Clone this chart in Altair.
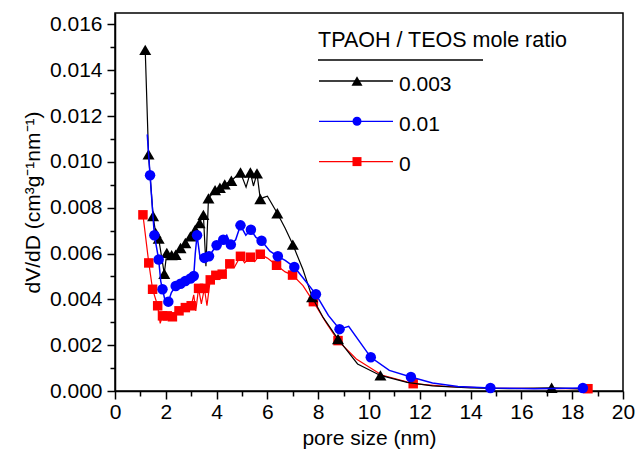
import altair as alt
import pandas as pd

FONT = "Liberation Sans"

# ---------------- data (y in cm3 g-1 nm-1) ----------------
# TPAOH/TEOS = 0.003 (black, triangles)
black_x = [1.19, 1.32, 1.50, 1.60, 1.72, 1.94, 2.04, 2.23, 2.39, 2.58, 2.77, 2.97, 3.16, 3.33, 3.48,
           3.58, 3.68, 3.94, 4.13, 4.32, 4.58, 4.75, 4.94, 5.16, 5.33, 5.45, 5.59, 5.72, 5.86, 6.00,
           6.39, 6.70, 7.00, 7.40, 7.76, 8.20, 8.78, 9.55, 10.45, 11.50, 12.50, 14.00, 15.50, 17.19, 18.58]
black_y = [0.01489, 0.01033, 0.00764, 0.00690, 0.00665, 0.00512, 0.00603, 0.00593, 0.00595, 0.00624,
           0.00646, 0.00675, 0.00704, 0.00733, 0.00769, 0.00545, 0.00841, 0.00877, 0.00887, 0.00902,
           0.00918, 0.00935, 0.00954, 0.00890, 0.00954, 0.00895, 0.00950, 0.00838, 0.00845, 0.00850,
           0.00776, 0.00710, 0.00639, 0.00530, 0.00410, 0.00320, 0.00227, 0.00118, 0.00068, 0.00038,
           0.00022, 0.00013, 0.00010, 0.00014, 0.00008]
black_mark = [1, 1, 1, 1, 1, 1, 1, 1, 1, 1, 1, 1, 1, 1, 1,
              0, 1, 1, 1, 1, 1, 0, 1, 0, 1, 0, 1, 1, 0, 0,
              1, 0, 1, 0, 1, 0, 1, 0, 1, 0, 0, 0, 0, 1, 0]

# TPAOH/TEOS = 0.01 (blue, circles)
blue_x = [1.27, 1.38, 1.55, 1.72, 1.80, 1.87, 1.96, 2.10, 2.22, 2.39, 2.58, 2.77, 2.97, 3.10, 3.16,
          3.23, 3.35, 3.52, 3.70, 4.00, 4.15, 4.26, 4.40, 4.56, 4.75, 4.94, 5.15, 5.35, 5.55, 5.77,
          6.10, 6.41, 6.70, 7.06, 7.50, 7.91, 8.40, 8.84, 9.20, 10.07, 10.80, 11.65, 12.50, 13.50,
          14.78, 16.50, 18.42]
blue_y = [0.01120, 0.00942, 0.00680, 0.00574, 0.00480, 0.00444, 0.00400, 0.00390, 0.00430, 0.00458,
          0.00468, 0.00480, 0.00491, 0.00502, 0.00600, 0.00680, 0.00580, 0.00581, 0.00588, 0.00636,
          0.00650, 0.00660, 0.00680, 0.00639, 0.00660, 0.00723, 0.00680, 0.00704, 0.00670, 0.00656,
          0.00610, 0.00588, 0.00570, 0.00541, 0.00480, 0.00422, 0.00330, 0.00270, 0.00282, 0.00147,
          0.00090, 0.00061, 0.00035, 0.00020, 0.00013, 0.00010, 0.00013]
blue_mark = [0, 1, 1, 1, 0, 1, 0, 1, 0, 1, 1, 1, 1, 1, 0,
             1, 0, 1, 1, 1, 0, 1, 0, 1, 0, 1, 0, 1, 0, 1,
             0, 1, 0, 1, 0, 1, 0, 1, 0, 1, 0, 1, 0, 0,
             1, 0, 1]

# TPAOH/TEOS = 0 (red, squares)
red_x = [1.10, 1.33, 1.48, 1.68, 1.78, 1.87, 2.06, 2.26, 2.40, 2.52, 2.77, 3.00, 3.10, 3.18, 3.29,
         3.40, 3.52, 3.62, 3.75, 3.97, 4.22, 4.52, 4.70, 4.94, 5.10, 5.33, 5.50, 5.72, 6.00, 6.36,
         6.70, 6.99, 7.40, 7.81, 8.30, 8.78, 9.50, 10.50, 11.74, 13.00, 15.00, 18.62]
red_y = [0.00769, 0.00559, 0.00444, 0.00372, 0.00295, 0.00328, 0.00328, 0.00324, 0.00350, 0.00350,
         0.00364, 0.00372, 0.00420, 0.00350, 0.00448, 0.00380, 0.00448, 0.00372, 0.00485, 0.00505,
         0.00510, 0.00555, 0.00540, 0.00588, 0.00560, 0.00584, 0.00565, 0.00597, 0.00580, 0.00549,
         0.00520, 0.00506, 0.00460, 0.00390, 0.00300, 0.00220, 0.00140, 0.00070, 0.00032, 0.00020,
         0.00012, 0.00010]
red_mark = [1, 1, 1, 1, 0, 1, 1, 1, 0, 1, 1, 1, 0, 0, 1,
            0, 1, 0, 1, 1, 1, 1, 0, 1, 0, 1, 0, 1, 0, 1,
            0, 1, 0, 1, 0, 1, 0, 0, 1, 0, 0, 1]

# drawing order: red, black, blue (blue on top)
series_names = ["0", "0.003", "0.01"]
series_colors = ["#ff0000", "#000000", "#0000ff"]
series_shapes = ["square", "triangle-up", "circle"]
series_sizes = [90, 144, 110]
series_widths = [1.2, 1.2, 1.5]
series_data = [(red_x, red_y, red_mark), (black_x, black_y, black_mark), (blue_x, blue_y, blue_mark)]

# legend (top to bottom)
legend_title = "TPAOH / TEOS mole ratio"
legend_labels = ["0.003", "0.01", "0"]
legend_colors = ["#000000", "#0000ff", "#ff0000"]
legend_shapes = ["triangle-up", "circle", "square"]
legend_sizes = [121, 81, 81]

x_ticks = list(range(0, 21, 2))
x_minor = list(range(1, 20, 2))
y_ticks = [0.000, 0.002, 0.004, 0.006, 0.008, 0.010, 0.012, 0.014, 0.016]
y_minor = [0.001, 0.003, 0.005, 0.007, 0.009, 0.011, 0.013, 0.015]

W, H = 508, 378

rows = []
for name, (xs, ys, ms) in zip(series_names, series_data):
    for i, (a, b, m) in enumerate(zip(xs, ys, ms)):
        rows.append({"series": name, "idx": i, "x": a, "y": b, "marker": m})
df = pd.DataFrame(rows)

x_scale = alt.Scale(domain=[0, 20], nice=False, zero=False)
y_scale = alt.Scale(domain=[0, 0.0165], nice=False, zero=False)

x_axis = alt.Axis(values=x_ticks, format="d", title="pore size (nm)", grid=False,
                  tickSize=8, tickWidth=1.5, tickColor="black", domainColor="black", domainWidth=1.5,
                  labelFontSize=21, labelFont=FONT, labelColor="black", labelPadding=2,
                  titleFontSize=21, titleFont=FONT, titleFontWeight="normal", titleColor="black",
                  titlePadding=5, labelFlush=False)
y_axis = alt.Axis(values=y_ticks, format=".3f", title="dV/dD (cm³g⁻¹nm⁻¹)", grid=False,
                  tickSize=8, tickWidth=1.5, tickColor="black", domainColor="black", domainWidth=1.5,
                  labelFontSize=21, labelFont=FONT, labelColor="black", labelPadding=5,
                  titleFontSize=21, titleFont=FONT, titleFontWeight="normal", titleColor="black",
                  titlePadding=6, labelFlush=False)

X = alt.X("x:Q", scale=x_scale, axis=x_axis)
Y = alt.Y("y:Q", scale=y_scale, axis=y_axis)

layers = []
for name, color, shape, size, sw in zip(series_names, series_colors, series_shapes, series_sizes, series_widths):
    base = alt.Chart(df).transform_filter(alt.datum.series == name)
    layers.append(base.mark_line(color=color, strokeWidth=sw, interpolate="linear").encode(
        x=X, y=Y, order="idx:Q"))
    layers.append(base.transform_filter(alt.datum.marker == 1).mark_point(
        shape=shape, filled=True, color=color, size=size, opacity=1).encode(x=X, y=Y))

# legend drawn in pixel space of the plot area
leg_x_text = 203
leg_line_x1, leg_line_x2, leg_mark_x, leg_label_x = 204, 278, 242, 284
leg_row0, leg_gap = 68, 40.3

title_df = pd.DataFrame({"t": [legend_title]})
layers.append(alt.Chart(title_df).mark_text(align="left", baseline="middle", font=FONT, fontSize=21.5,
                                            color="black").encode(
    x=alt.value(leg_x_text), y=alt.value(28), text="t:N"))
layers.append(alt.Chart(title_df).mark_rule(color="black", strokeWidth=1.5).encode(
    x=alt.value(203), x2=alt.value(368), y=alt.value(47)))

for i, (lab, col, shp, sz) in enumerate(zip(legend_labels, legend_colors, legend_shapes, legend_sizes)):
    yy = leg_row0 + i * leg_gap
    ldf = pd.DataFrame({"label": [lab]})
    layers.append(alt.Chart(ldf).mark_rule(color=col, strokeWidth=1.3).encode(
        x=alt.value(leg_line_x1), x2=alt.value(leg_line_x2), y=alt.value(yy)))
    layers.append(alt.Chart(ldf).mark_point(shape=shp, filled=True, color=col, size=sz, opacity=1).encode(
        x=alt.value(leg_mark_x), y=alt.value(yy)))
    layers.append(alt.Chart(ldf).mark_text(align="left", baseline="middle", font=FONT, fontSize=21,
                                           color="black").encode(
        x=alt.value(leg_label_x), y=alt.value(yy + 3.5), text="label:N"))

main = alt.layer(*layers)

# minor ticks (separate axes, no labels)
minor = alt.Chart(df).mark_point(opacity=0).encode(
    x=alt.X("x:Q", scale=x_scale, axis=alt.Axis(orient="bottom", values=x_minor, labels=False, domain=False,
                                                 grid=False, title=None, tickSize=5, tickWidth=1.5,
                                                 tickColor="black")),
    y=alt.Y("y:Q", scale=y_scale, axis=alt.Axis(orient="left", values=y_minor, labels=False, domain=False,
                                                 grid=False, title=None, tickSize=5, tickWidth=1.5,
                                                 tickColor="black")),
)

chart = alt.layer(main, minor).resolve_axis(x="independent", y="independent").properties(
    width=W, height=H,
    autosize=alt.AutoSizeParams(type="none"),
    padding={"left": 107, "top": 5, "right": 12, "bottom": 58},
    background="white",
).configure_view(stroke="black", strokeWidth=1.5)

chart.save("out.html", embed_options={"renderer": "svg", "actions": False})
